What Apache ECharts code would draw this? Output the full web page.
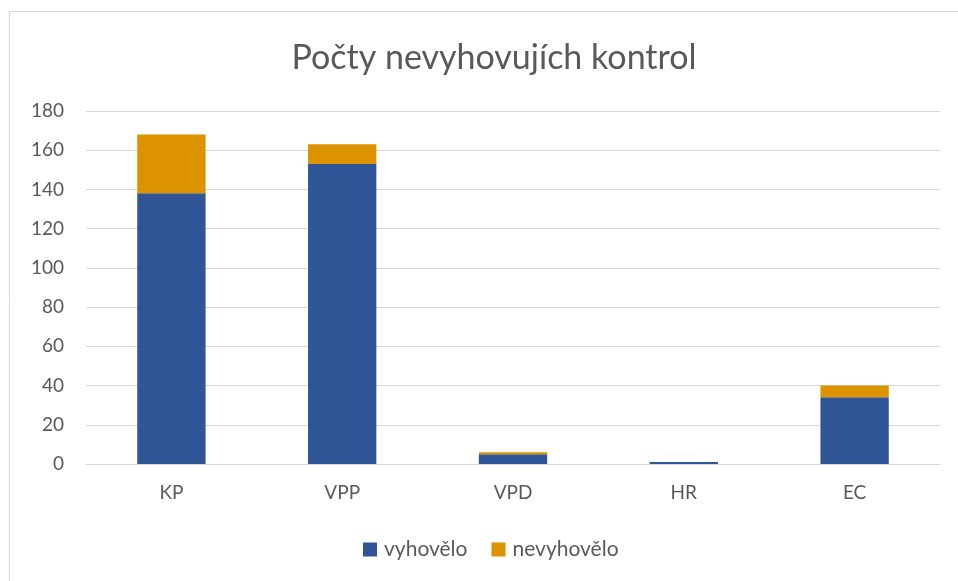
<!DOCTYPE html>
<html>
<head>
<meta charset="utf-8">
<script src="https://cdn.jsdelivr.net/npm/echarts@6/dist/echarts.min.js"></script>
<style>
  html, body { margin: 0; padding: 0; background: #fff; }
  #main { width: 958px; height: 581px; }
</style>
</head>
<body>
<div id="main"></div>
<script>
var categories = ['KP', 'VPP', 'VPD', 'HR', 'EC'];
var vyhovelo = [138, 153, 5, 1, 34];
var nevyhovelo = [30, 10, 1, 0, 6];
var yTicks = { min: 0, max: 180, interval: 20 };

var myChart = echarts.init(document.getElementById('main'));
var font = 'Lato, "Open Sans", sans-serif';
var option = {
    backgroundColor: '#fff',
    animation: false,
    title: {
        text: 'Počty nevyhovujích kontrol',
        left: 489,
        top: 36,
        textAlign: 'center',
        textStyle: { fontFamily: font, fontSize: 34, fontWeight: 'normal', color: '#595959' }
    },
    graphic: [{
        type: 'rect',
        shape: { x: 9.5, y: 11.5, width: 960, height: 600 },
        style: { fill: 'none', stroke: '#d9d9d9', lineWidth: 1 },
        silent: true
    }],
    grid: { left: 86, right: 18, top: 111, bottom: 117, containLabel: false },
    legend: {
        bottom: 16,
        left: 358,
        itemWidth: 14,
        itemHeight: 14,
        itemGap: 24,
        icon: 'rect',
        textStyle: { fontFamily: font, fontSize: 21, color: '#595959', padding: [0, 0, 0, 2] },
        data: ['vyhovělo', 'nevyhovělo']
    },
    xAxis: {
        type: 'category',
        data: categories,
        axisLine: { lineStyle: { color: '#d9d9d9', width: 1 } },
        axisTick: { show: false },
        axisLabel: { fontFamily: font, fontSize: 19, color: '#595959', margin: 19 }
    },
    yAxis: {
        type: 'value',
        min: yTicks.min,
        max: yTicks.max,
        interval: yTicks.interval,
        axisLine: { show: false },
        axisTick: { show: false },
        splitLine: { lineStyle: { color: '#d9d9d9', width: 1 } },
        axisLabel: { fontFamily: font, fontSize: 19, color: '#595959', margin: 22 }
    },
    series: [
        {
            name: 'vyhovělo',
            type: 'bar',
            stack: 'a',
            barWidth: '40%',
            itemStyle: { color: '#2f5597' },
            data: vyhovelo
        },
        {
            name: 'nevyhovělo',
            type: 'bar',
            stack: 'a',
            barWidth: '40%',
            itemStyle: { color: '#dd9200' },
            data: nevyhovelo
        }
    ]
};
myChart.setOption(option);
</script>
</body>
</html>
